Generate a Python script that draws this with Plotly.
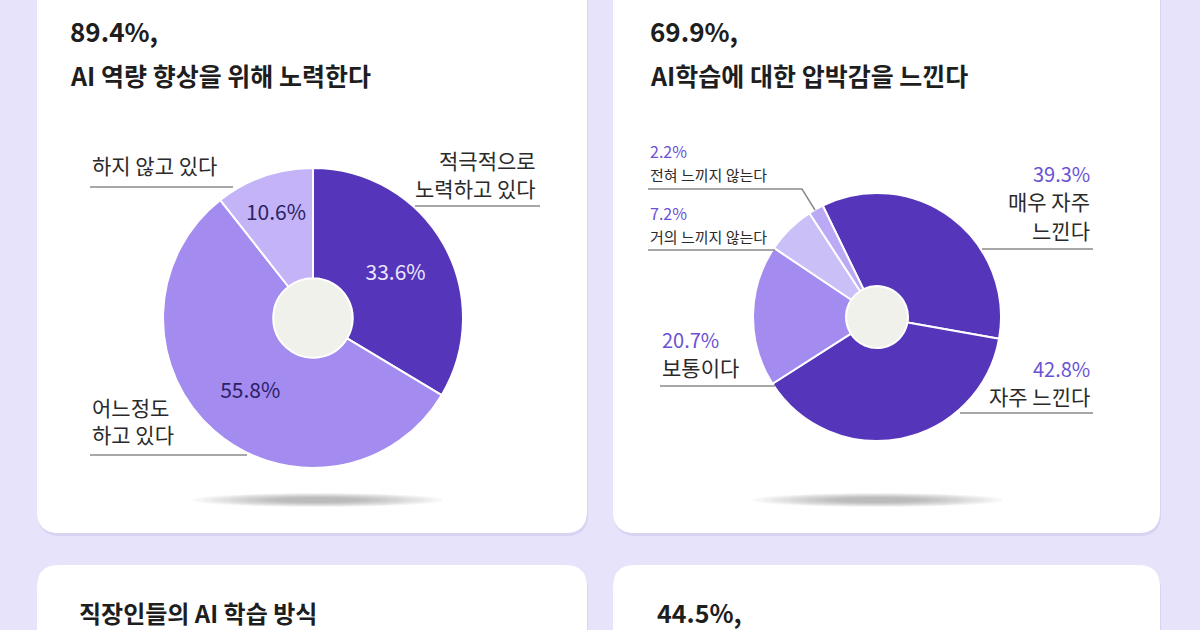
import plotly.graph_objects as go

W, H = 1200, 630

# ---------------- data ----------------
c1_pct_title = "89.4%,"
c1_title = "AI 역량 향상을 위해 노력한다"
c1_labels = ["적극적으로<br>노력하고 있다", "어느정도<br>하고 있다", "하지 않고 있다"]
c1_values = [33.6, 55.8, 10.6]

c2_pct_title = "69.9%,"
c2_title = "AI학습에 대한 압박감을 느낀다"
c2_labels = ["매우 자주<br>느낀다", "자주 느낀다", "보통이다", "거의 느끼지 않는다", "전혀 느끼지 않는다"]
c2_values = [39.3, 42.8, 20.7, 7.2, 2.2]

c3_title = "직장인들의 AI 학습 방식"
c4_pct_title = "44.5%,"

# ---------------- style ----------------
FONT = "Noto Sans CJK KR"
BG = "#e7e3fb"
DARK = "#5535b9"
MED = "#a48bf0"
LIGHT = "#c4b4f7"
LIGHTER = "#cbbff8"
PURPLE_TXT = "#6a52d6"
TXT = "#2a2a2a"
HOLE = "#f1f1ec"

c1_colors = [DARK, MED, LIGHT]
c2_colors = [DARK, DARK, MED, LIGHTER, "#bba9f5"]

c1_center, c1_r = (313, 318), 150
c2_center, c2_r = (877, 317), 124


def dom(center, r):
    cx, cy = center
    return dict(x=[(cx - r) / W, (cx + r) / W], y=[1 - (cy + r) / H, 1 - (cy - r) / H])


fig = go.Figure()

fig.add_trace(go.Pie(
    values=c1_values, labels=c1_labels, sort=False, direction="clockwise", rotation=0,
    hole=0.265, domain=dom(c1_center, c1_r),
    marker=dict(colors=c1_colors, line=dict(color="white", width=2)),
    texttemplate="%{value:.1f}%", textposition="inside", insidetextorientation="horizontal",
    textfont=dict(family=FONT, size=21, color=["#ece6ff", "#2b2266", "#2b2266"]),
    hoverinfo="skip", showlegend=False,
))

fig.add_trace(go.Pie(
    values=c2_values, labels=c2_labels, sort=False, direction="clockwise", rotation=-26,
    hole=0.25, domain=dom(c2_center, c2_r),
    marker=dict(colors=c2_colors, line=dict(color="white", width=2)),
    textinfo="none", hoverinfo="skip", showlegend=False,
))

shapes = []


def rrect(x0, y0, x1, y1, r):
    return (f"M{x0+r},{y0} L{x1-r},{y0} Q{x1},{y0} {x1},{y0+r} L{x1},{y1-r} Q{x1},{y1} {x1-r},{y1} "
            f"L{x0+r},{y1} Q{x0},{y1} {x0},{y1-r} L{x0},{y0+r} Q{x0},{y0} {x0+r},{y0} Z")


# cards
for (x0, y0, x1, y1) in [(37, -40, 587, 533), (613, -40, 1160, 533), (37, 565, 587, 700), (613, 565, 1160, 700)]:
    shapes.append(dict(type="path", path=rrect(x0 + 1, y0 + 3, x1 + 1, y1 + 3, 22), xref="x", yref="y",
                       fillcolor="rgba(150,140,200,0.18)", line_width=0, layer="below"))
    shapes.append(dict(type="path", path=rrect(x0, y0, x1, y1, 22), xref="x", yref="y",
                       fillcolor="white", line_width=0, layer="below"))

# holes
for (cx, cy), rr in [(c1_center, 40), (c2_center, 32)]:
    shapes.append(dict(type="circle", xref="x", yref="y", x0=cx - rr, x1=cx + rr, y0=cy - rr, y1=cy + rr,
                       fillcolor=HOLE, line_width=0, layer="below"))

# shadows under donuts
for (sx, sy) in [(318, 500), (878, 500)]:
    for k in range(10):
        hw = 125 - k * 9
        hh = 7 - k * 0.5
        shapes.append(dict(type="circle", xref="x", yref="y", x0=sx - hw, x1=sx + hw, y0=sy - hh, y1=sy + hh,
                           fillcolor="rgba(90,90,90,0.05)", line_width=0, layer="below"))

# leader lines
LINE = dict(color="#8a8a8a", width=1.5)
segs = [
    [(415, 206), (540, 206)],
    [(90, 455), (247, 455)],
    [(90, 187), (233, 187)],
    [(982, 249), (1093, 249)],
    [(960, 413), (1093, 413)],
    [(660, 386), (775, 386)],
    [(648, 250), (775, 250)],
    [(648, 189), (802, 189), (815, 210)],
]
for pts in segs:
    path = "M" + " L".join(f"{x},{y}" for x, y in pts)
    shapes.append(dict(type="path", path=path, xref="x", yref="y", line=LINE))

ann = []


def txt(x, y, s, size, color=TXT, anchor="left", bold=False):
    ann.append(dict(x=x, y=y, xref="x", yref="y", text=f"<b>{s}</b>" if bold else s, showarrow=False,
                    xanchor=anchor, yanchor="middle", font=dict(family=FONT, size=size, color=color)))


# titles
txt(68, 30, c1_pct_title, 26, "#1e1e1e", bold=True)
txt(68, 75, c1_title, 25, "#1e1e1e", bold=True)
txt(648, 30, c2_pct_title, 26, "#1e1e1e", bold=True)
txt(648, 75, c2_title, 25, "#1e1e1e", bold=True)
txt(77, 612, c3_title, 24, "#1e1e1e", bold=True)
txt(655, 612, c4_pct_title, 25, "#1e1e1e", bold=True)

# chart 1 labels
l0 = c1_labels[0].split("<br>")
txt(538, 160, l0[0], 21, anchor="right")
txt(538, 188, l0[1], 21, anchor="right")
l1 = c1_labels[1].split("<br>")
txt(90, 407, l1[0], 21)
txt(90, 434, l1[1], 21)
txt(90, 165, c1_labels[2], 21)

# chart 2 labels
pct = [f"{v:.1f}%" for v in c2_values]
l0 = c2_labels[0].split("<br>")
txt(1092, 173, pct[0], 20, PURPLE_TXT, anchor="right")
txt(1092, 201, l0[0], 21, anchor="right")
txt(1092, 230, l0[1], 21, anchor="right")
txt(1092, 368, pct[1], 20, PURPLE_TXT, anchor="right")
txt(1092, 396, c2_labels[1], 21, anchor="right")
txt(660, 339, pct[2], 20, PURPLE_TXT)
txt(660, 367, c2_labels[2], 21)
txt(648, 213, pct[3], 16, PURPLE_TXT)
txt(648, 236, c2_labels[3], 15)
txt(648, 151, pct[4], 16, PURPLE_TXT)
txt(648, 174, c2_labels[4], 15)

fig.update_layout(
    width=W, height=H, margin=dict(l=0, r=0, t=0, b=0),
    paper_bgcolor=BG, plot_bgcolor=BG,
    xaxis=dict(range=[0, W], visible=False, domain=[0, 1], fixedrange=True),
    yaxis=dict(range=[H, 0], visible=False, domain=[0, 1], fixedrange=True),
    shapes=shapes, annotations=ann, showlegend=False,
    font=dict(family=FONT),
)

fig.write_html("out.html", config={"displayModeBar": False},
               post_script="document.body.style.margin='0';document.body.style.overflow='hidden';")
